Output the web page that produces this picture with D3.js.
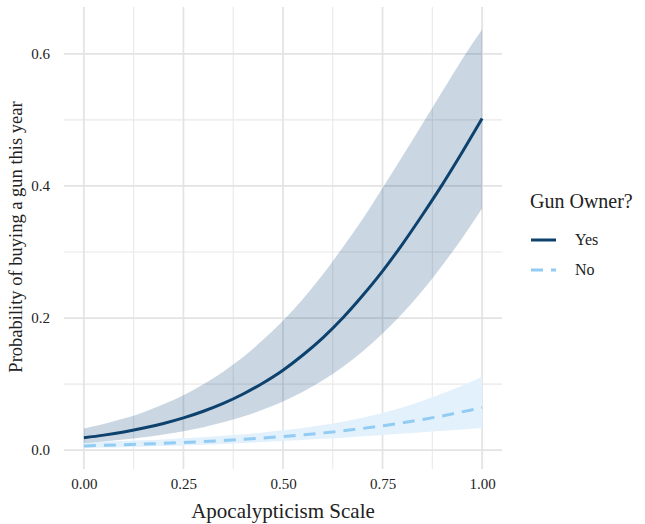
<!DOCTYPE html>
<html><head><meta charset="utf-8">
<script src="https://cdn.jsdelivr.net/npm/d3@7"></script>
<style>
html,body{margin:0;padding:0;background:#fff;}
svg text{font-family:"Liberation Serif","DejaVu Serif",serif;fill:#222;}
</style></head>
<body><svg id="c" width="645" height="524"></svg>
<script>
const xs = [0,0.05,0.1,0.15,0.2,0.25,0.3,0.35,0.4,0.45,0.5,0.55,0.6,0.65,0.7,0.75,0.8,0.85,0.9,0.95,1.0];
const yesFit = [0.0187,0.0227,0.0275,0.0334,0.0404,0.0488,0.0589,0.0708,0.085,0.1017,0.121,0.144,0.170,0.200,0.234,0.271,0.312,0.356,0.402,0.451,0.502];
const yesUpper = [0.0326,0.0395,0.0477,0.0575,0.0693,0.0832,0.0996,0.1188,0.141,0.167,0.196,0.229,0.266,0.307,0.350,0.397,0.445,0.494,0.543,0.592,0.637];
const yesLower = [0.0109,0.0132,0.0161,0.0195,0.0237,0.0287,0.0348,0.0421,0.0509,0.0614,0.0738,0.0885,0.1058,0.126,0.1495,0.1766,0.207,0.2415,0.2797,0.321,0.366];
const noFit = [0.0064,0.0072,0.0081,0.0091,0.0102,0.0115,0.0129,0.0145,0.0163,0.0183,0.0206,0.0232,0.0260,0.0292,0.0328,0.0368,0.0413,0.0463,0.0518,0.0579,0.0645];
const noUpper = [0.0119,0.0128,0.0138,0.0149,0.0162,0.0178,0.0195,0.0216,0.0239,0.0267,0.0299,0.0336,0.0380,0.0431,0.0491,0.0561,0.0644,0.0742,0.0856,0.0975,0.111];
const noLower = [0.0032,0.0038,0.0045,0.0052,0.0061,0.0071,0.0082,0.0094,0.0107,0.0121,0.0137,0.0153,0.0171,0.0189,0.0209,0.0229,0.0250,0.0271,0.0292,0.0314,0.0334];
const xTicks = [0,0.25,0.5,0.75,1.0];
const xMinor = [0.125,0.375,0.625,0.875];
const yTicks = [0,0.2,0.4,0.6];
const yMinor = [0.1,0.3,0.5];
const groups = ["Yes","No"];

const svg = d3.select("#c");
const x = d3.scaleLinear().domain([-0.05,1.05]).range([64,502]);
const y = d3.scaleLinear().domain([-0.0286,0.671]).range([469,7]);

const grid = svg.append("g");
grid.selectAll(".hm").data(yMinor).join("line").attr("x1",64).attr("x2",502)
  .attr("y1",d=>y(d)).attr("y2",d=>y(d)).attr("stroke","#e8e8e8").attr("stroke-width",1.1);
grid.selectAll(".vm").data(xMinor).join("line").attr("y1",7).attr("y2",469)
  .attr("x1",d=>x(d)).attr("x2",d=>x(d)).attr("stroke","#e8e8e8").attr("stroke-width",1.1);
grid.selectAll(".hM").data(yTicks).join("line").attr("x1",64).attr("x2",502)
  .attr("y1",d=>y(d)).attr("y2",d=>y(d)).attr("stroke","#e3e3e3").attr("stroke-width",1.7);
grid.selectAll(".vM").data(xTicks).join("line").attr("y1",7).attr("y2",469)
  .attr("x1",d=>x(d)).attr("x2",d=>x(d)).attr("stroke","#e3e3e3").attr("stroke-width",1.7);

const rows = xs.map((v,i)=>({x:v,yf:yesFit[i],yu:yesUpper[i],yl:yesLower[i],nf:noFit[i],nu:noUpper[i],nl:noLower[i]}));
const area = (u,l)=>d3.area().x(d=>x(d.x)).y0(d=>y(d[l])).y1(d=>y(d[u])).curve(d3.curveMonotoneX);
const line = (k)=>d3.line().x(d=>x(d.x)).y(d=>y(d[k])).curve(d3.curveMonotoneX);

svg.append("path").datum(rows).attr("d",area("nu","nl")).attr("fill","#e3f1fc");
svg.append("path").datum(rows).attr("d",area("yu","yl")).attr("fill","#0d4a7c").attr("fill-opacity",0.22);
svg.append("path").datum(rows).attr("d",line("nf")).attr("fill","none").attr("stroke","#93ccf3")
  .attr("stroke-width",3).attr("stroke-dasharray","12,8");
svg.append("path").datum(rows).attr("d",line("yf")).attr("fill","none").attr("stroke","#0d426f")
  .attr("stroke-width",3);

// axes
const xa = svg.append("g").attr("transform","translate(0,469)")
  .call(d3.axisBottom(x).tickValues(xTicks).tickFormat(d3.format(".2f")).tickSize(0).tickPadding(9));
xa.select(".domain").remove();
xa.selectAll("text").attr("font-size",15).style("font-family","Liberation Serif").attr("fill","#222");
const ya = svg.append("g").attr("transform","translate(64,0)")
  .call(d3.axisLeft(y).tickValues(yTicks).tickFormat(d3.format(".1f")).tickSize(0).tickPadding(14));
ya.select(".domain").remove();
ya.selectAll("text").attr("font-size",15).style("font-family","Liberation Serif").attr("fill","#222");

svg.append("text").attr("x",283).attr("y",518).attr("text-anchor","middle").attr("font-size",21)
  .text("Apocalypticism Scale");
svg.append("text").attr("transform","translate(22,237) rotate(-90)").attr("text-anchor","middle").attr("font-size",18.5)
  .text("Probability of buying a gun this year");

// legend
const lg = svg.append("g");
lg.append("text").attr("x",530).attr("y",208).attr("font-size",20).text("Gun Owner?");
const keyStyle = {Yes:{c:"#0d426f",dash:null},No:{c:"#93ccf3",dash:"12,8"}};
groups.forEach((g,i)=>{
  const yy = 240 + i*30;
  lg.append("line").attr("x1",531).attr("x2",556).attr("y1",yy).attr("y2",yy)
    .attr("stroke",keyStyle[g].c).attr("stroke-width",3).attr("stroke-dasharray",keyStyle[g].dash);
  lg.append("text").attr("x",575).attr("y",yy+5).attr("font-size",16).text(g);
});
</script></body></html>
